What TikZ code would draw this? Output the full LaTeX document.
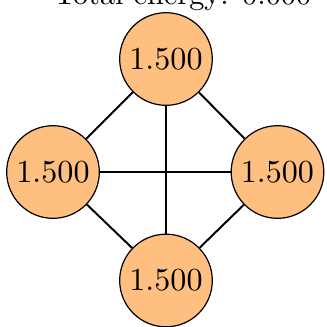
\documentclass[tikz,border=0pt]{standalone}
\begin{document}
\begin{tikzpicture}[x=0.3303pt,y=-0.3303pt,
  vert/.style={circle,draw=black,line width=0.4pt,fill=orange!50,minimum size=30.6pt,inner sep=0pt,font=\fontsize{10.6pt}{12pt}\selectfont},
  edge/.style={draw=black,line width=0.65pt}]
\useasboundingbox (0,0) rectangle (327,327);
\node[anchor=base] (title) at (182.5,4) {Total energy: 0.000};
\node[vert] (t) at (166,59) {1.500};
\node[vert] (l) at (53,172) {1.500};
\node[vert] (r) at (277.5,172) {1.500};
\node[vert] (b) at (166,280.5) {1.500};
\draw[edge] (t) -- (l);
\draw[edge] (t) -- (r);
\draw[edge] (t) -- (b);
\draw[edge] (l) -- (r);
\draw[edge] (l) -- (b);
\draw[edge] (r) -- (b);
\end{tikzpicture}
\end{document}
